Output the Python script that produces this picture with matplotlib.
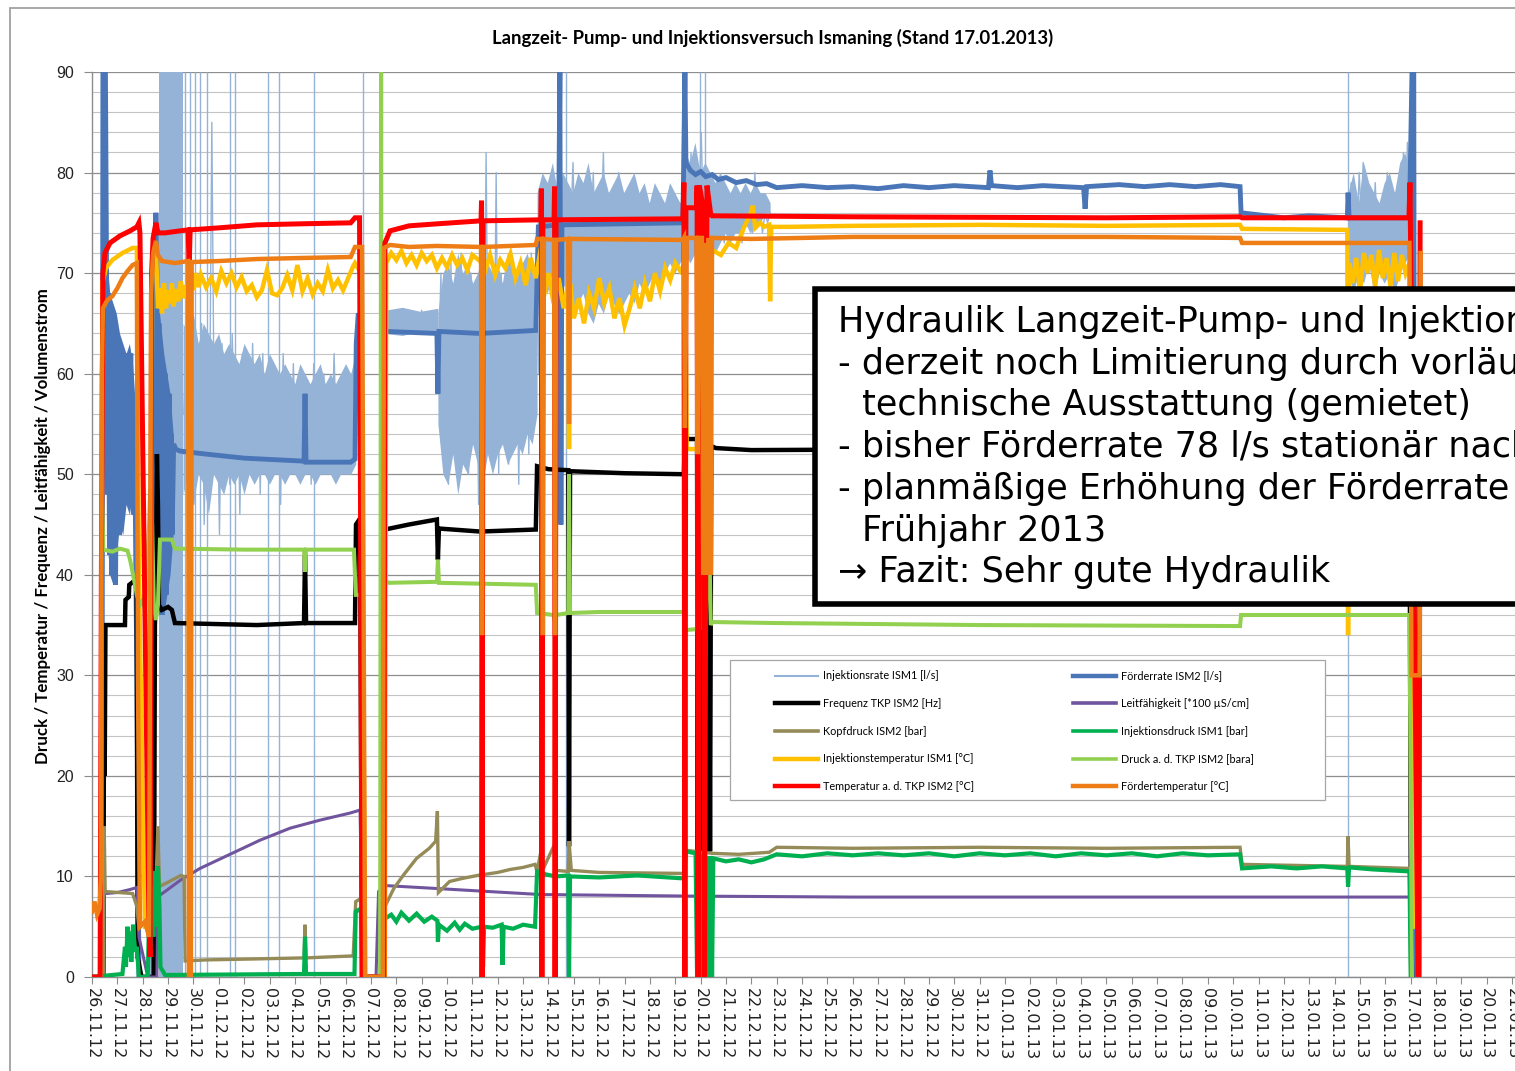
"""
Langzeit- Pump- und Injektionsversuch Ismaning - Excel style line chart
"""
import matplotlib
matplotlib.use('Agg')
import matplotlib.pyplot as plt
from matplotlib.patches import Rectangle
from matplotlib.lines import Line2D
from matplotlib.ticker import MultipleLocator
import numpy as np
import pandas as pd

# ---------------------------------------------------------------------------
# Data (x = days since 26.11.2012 00:00)
# ---------------------------------------------------------------------------
start_date = '2012-11-26'
n_days = 61
tick_dates = pd.date_range(start_date, periods=n_days, freq='D')
tick_labels = [d.strftime('%d.%m.%y') for d in tick_dates]
y_ticks = list(range(0, 91, 10))

# Injektionsrate ISM1 [l/s] - noisy bands (start day, end day, values)
inj_rate_band1 = (3.62, 10.35, [56, 63, 50, 64, 47, 62, 52, 65, 45, 61, 51, 85,
                                53, 60, 44, 63, 52, 62, 49, 64, 53, 61, 46, 62,
                                52, 60, 50, 63, 54, 61, 48, 62, 52, 59, 51, 61,
                                53, 60, 47, 62, 52, 59, 50, 61, 53, 58, 51, 60,
                                52, 59, 49, 61, 53, 58, 52, 60, 51, 59, 53, 62,
                                52, 58, 50, 60, 53, 59, 52, 61])
inj_rate_pts1 = [(10.40, 60), (10.46, 66), (10.60, 65), (10.69, 0)]
inj_rate_band2 = (11.55, 13.62, [65.5, 64.5, 66, 64.8, 65.8, 64.6, 66.2, 65,
                                 65.6, 64.5, 66, 64.8, 65.7, 64.7, 66.3, 65,
                                 65.5, 64.6, 66, 64.8, 65.6])
inj_rate_band3 = (13.66, 17.62, [60, 70, 52, 68, 49, 71, 54, 67, 51, 72, 55,
                                 69, 50, 70, 53, 68, 47, 71, 56, 82, 52, 69,
                                 54, 80, 50, 70, 55, 68, 51, 71, 53, 69, 49,
                                 70, 56, 68, 52, 72, 55, 69, 60])
inj_rate_band4 = (17.67, 23.36, [72, 78, 70, 77, 73, 80, 69, 76, 72, 79, 71,
                                 77, 74, 81, 70, 78, 72, 76, 68, 79, 73, 80,
                                 71, 77, 74, 82, 70, 78, 72, 77, 71, 80, 73,
                                 78, 69, 76, 72, 79, 74, 77, 70, 78, 73, 76,
                                 71, 75, 74, 77, 70, 76, 73, 78, 72, 75, 74,
                                 77, 73, 76])
inj_rate_band5 = (23.42, 26.74, [80, 75, 82, 74, 79, 76, 84, 73, 80, 75, 78,
                                 74, 79, 76, 77, 73, 78, 75, 77, 74, 76, 78,
                                 73, 77, 75, 76, 74, 80, 75, 77, 74, 76, 75,
                                 76])
inj_rate_band6 = (49.57, 51.95, [76, 79, 75, 78, 74, 80, 76, 81, 75, 78, 73,
                                 77, 75, 79, 74, 76, 75, 78, 76, 80, 74, 79,
                                 75, 78, 76, 80, 75, 82, 76, 83, 77])
inj_rate_pts2 = [(52.02, 82), (52.06, 0)]
inj_rate_spikes = [3.67, 3.86, 4.06, 4.26, 4.53, 5.44, 5.64, 6.94, 7.37,
                   8.75, 10.69, 18.68, 23.97, 24.17, 49.53]

# envelopes of the dense Injektionsrate noise (start, end, low, high)
inj_env_block = (2.66, 3.59, [0, 0], [90, 90])
inj_env1 = (3.59, 10.40,
            [48, 50, 47, 50, 49, 46, 50, 49, 48, 50, 49, 50, 48, 50, 49, 50,
             50, 49, 50, 50, 49, 50, 50, 49, 50, 50, 49, 50, 50, 50, 49, 50,
             50, 50, 51],
            [65, 64, 66, 63, 65, 64, 63, 64, 62, 63, 62, 61, 63, 62, 61, 62,
             60, 62, 61, 60, 61, 60, 59, 61, 60, 59, 60, 61, 59, 60, 59, 60,
             61, 60, 62])
inj_env2 = (11.53, 13.64, [64.0, 63.8, 64.2, 63.9], [66.3, 66.6, 66.2, 66.5])
inj_env3 = (13.64, 17.55,
            [55, 50, 49, 52, 48, 51, 50, 53, 51, 49, 52, 50, 52, 53, 51, 52,
             53, 52, 54, 53, 56],
            [66, 70, 71, 69, 72, 70, 71, 69, 70, 72, 71, 70, 71, 69, 72, 71,
             70, 71, 72, 70, 71])
inj_env4 = (17.55, 23.38,
            [70, 69, 68, 70, 67, 69, 68, 66, 67, 68, 66, 65, 67, 66, 68, 67,
             66, 67, 68, 67, 69, 68, 69, 70, 69, 70, 71, 70, 71, 72],
            [78, 80, 79, 81, 78, 80, 79, 78, 80, 79, 81, 78, 79, 80, 78, 79,
             80, 78, 79, 80, 78, 79, 77, 79, 78, 77, 79, 78, 77, 78])
inj_env5 = (23.38, 26.74,
            [72, 71, 72, 73, 72, 73, 72, 73, 74, 73, 74, 74, 75, 74, 75, 75,
             76, 76],
            [82, 81, 83, 80, 81, 80, 79, 80, 79, 78, 79, 78, 79, 78, 79, 78,
             78, 77])
inj_env6 = (49.53, 51.97,
            [70, 68, 70, 69, 71, 68, 70, 69, 70, 68, 70, 71, 72],
            [78, 80, 77, 81, 79, 78, 77, 79, 80, 78, 81, 82, 80])

# Förderrate ISM2 [l/s]
foerderrate = [(0.39, 0), (0.43, 90), (0.53, 90), (0.57, 72), (0.61, 48),
               (0.65, 68), (0.69, 42), (0.73, 66), (0.77, 40), (0.81, 64),
               (0.85, 45), (0.89, 62), (0.93, 39), (0.97, 60), (1.01, 47),
               (1.05, 63), (1.09, 44), (1.13, 58), (1.17, 48), (1.21, 61),
               (1.25, 50), (1.29, 56), (1.33, 47), (1.37, 62), (1.41, 52),
               (1.45, 60), (1.49, 55), (1.53, 62), (1.57, 50), (1.61, 57),
               (1.65, 46), (1.69, 52), (1.73, 40), (1.77, 30), (1.85, 0),
               (2.40, 0), (2.45, 60), (2.52, 76), (2.56, 70), (2.60, 42),
               (2.64, 65), (2.68, 38), (2.72, 62), (2.76, 36), (2.80, 58),
               (2.84, 40), (2.88, 60), (2.92, 38), (2.96, 55), (3.00, 42),
               (3.04, 58), (3.08, 45), (3.12, 54), (3.16, 44), (3.22, 53),
               (3.30, 52.5), (3.47, 52.3), (4.5, 52.0), (6.0, 51.6),
               (8.36, 51.3), (8.40, 58), (8.44, 51.2), (10.2, 51.2),
               (10.37, 51.5), (10.42, 63), (10.50, 66), (10.62, 64),
               (10.69, 0), (11.45, 0), (11.51, 64.5), (11.6, 64.2),
               (13.60, 64.0), (13.64, 58), (13.68, 64.2), (15.3, 64.0),
               (17.5, 64.3), (17.6, 74.6), (18.40, 74.8), (18.45, 90),
               (18.49, 45), (18.53, 74.8), (23.30, 75.0), (23.38, 90),
               (23.42, 81), (23.6, 80.2), (23.8, 79.8), (24.0, 80.1),
               (24.2, 79.6), (24.45, 79.8), (24.7, 79.3), (25.0, 79.5),
               (25.4, 79.0), (25.8, 79.2), (26.2, 78.8), (26.6, 78.9),
               (27.0, 78.5), (28, 78.7), (29, 78.5), (30, 78.6), (31, 78.4),
               (32, 78.7), (33, 78.5), (34, 78.7), (35.35, 78.5),
               (35.41, 80.2), (35.47, 78.7), (36.5, 78.5), (37.5, 78.7),
               (39.10, 78.5), (39.16, 76.4), (39.22, 78.6), (40.5, 78.8),
               (41.5, 78.6), (42.5, 78.8), (43.5, 78.6), (44.5, 78.8),
               (45.27, 78.6), (45.31, 76.0), (46, 75.8), (47, 75.5),
               (48, 75.7), (49.5, 75.5), (49.53, 78), (49.57, 75.5),
               (51.95, 75.5), (52.05, 90), (52.12, 90), (52.17, 0)]

# envelopes of the dense Förderrate start-up noise (start, end, low, high)
foerder_env1 = (0.57, 1.73, [44, 40, 39, 42, 45, 44, 47, 46, 48, 46],
                [72, 68, 67, 66, 64, 63, 62, 63, 61, 56])
foerder_env2 = (2.58, 3.20, [42, 38, 36, 38, 40, 44], [68, 65, 62, 60, 58, 54])

# Frequenz TKP ISM2 [Hz]
frequenz = [(0, 0), (0.45, 0), (0.47, 25), (0.50, 20), (0.53, 35),
            (1.30, 35), (1.32, 37.5), (1.45, 37.8), (1.47, 39), (1.72, 39.5),
            (1.76, 38), (1.80, 2), (1.95, 0), (2.44, 0), (2.48, 35),
            (2.52, 38), (2.56, 52), (2.60, 47), (2.64, 37), (2.75, 36.5),
            (3.00, 36.8), (3.15, 36.5), (3.27, 35.2), (6.5, 35.0),
            (8.36, 35.2), (8.40, 42), (8.44, 35.2), (10.37, 35.2),
            (10.41, 45), (10.57, 45.6), (10.65, 0), (11.51, 0), (11.55, 44.5),
            (12.5, 45.0), (13.60, 45.5), (13.64, 41.5), (13.68, 44.6),
            (15.3, 44.3), (17.5, 44.5), (17.55, 50.8), (18.0, 50.5),
            (18.78, 50.4), (18.81, 13), (18.85, 50.3), (21, 50.1),
            (23.34, 50.0), (23.38, 54), (23.5, 53.5), (23.86, 53.5),
            (23.88, 12.5), (23.92, 54), (24.0, 53.5), (24.05, 12.5),
            (24.12, 54), (24.17, 12.5), (24.22, 54), (24.27, 12.5),
            (24.32, 53), (24.37, 12.5), (24.42, 52.8), (24.6, 52.6),
            (26, 52.4), (35, 52.5), (45, 52.5), (51.95, 52.3), (52.0, 11),
            (52.05, 0)]

# Leitfähigkeit [*100 µS/cm]
leitfaehigkeit = [(0.55, 8.3), (1.0, 8.4), (1.5, 8.7), (1.77, 8.9),
                  (1.85, 4), (2.20, 0), (2.56, 0), (2.60, 8.0), (2.88, 8.5),
                  (3.47, 9.6), (4.26, 10.8), (5.44, 12.2), (6.62, 13.6),
                  (7.81, 14.8), (8.99, 15.6), (10.17, 16.3), (10.57, 16.6),
                  (10.69, 0), (11.2, 0), (11.3, 8.5), (11.51, 9.1),
                  (13.6, 8.8), (15.3, 8.55), (17.7, 8.2), (23.4, 8.05),
                  (30, 7.95), (52.0, 7.95), (52.05, 0)]

# Kopfdruck ISM2 [bar]
kopfdruck = [(0, 0), (0.45, 0), (0.48, 15), (0.52, 8.5), (1.6, 8.3),
             (1.77, 7), (1.85, 5), (2.2, 5.5), (2.44, 6), (2.52, 9),
             (2.60, 15), (2.66, 9), (2.9, 9.3), (3.2, 9.7), (3.5, 10.1),
             (3.63, 10), (3.67, 1.6), (4.5, 1.7), (6.5, 1.8), (8.36, 1.9),
             (8.40, 5.2), (8.44, 1.9), (10.3, 2.1), (10.40, 7.5), (10.6, 7.8),
             (10.69, 0), (11.51, 0), (11.55, 7), (11.9, 8.8), (12.3, 10.2),
             (12.8, 11.8), (13.3, 12.8), (13.55, 13.5), (13.62, 16.5),
             (13.66, 8.4), (14.1, 9.5), (14.6, 9.8), (15.2, 10.1),
             (16.0, 10.4), (16.5, 10.7), (17.0, 10.9), (17.47, 11.2),
             (17.55, 10.5), (17.74, 13.0), (17.8, 10.8), (18.26, 13.3),
             (18.3, 10.6), (18.78, 10.5), (18.81, 13.5), (18.9, 10.6),
             (20, 10.4), (23.34, 10.3), (23.42, 12.6), (24.45, 12.3),
             (25.5, 12.2), (26.7, 12.4), (27.0, 12.9), (30, 12.8),
             (35, 12.9), (40, 12.8), (45.27, 12.9), (45.35, 11.2),
             (49.5, 11.0), (49.53, 14.0), (49.57, 11.0), (51.95, 10.8),
             (52.0, 0)]

# Injektionsdruck ISM1 [bar]
injektionsdruck = [(0, 0), (1.20, 0.3), (1.30, 3), (1.34, 1), (1.40, 5),
                   (1.45, 2), (1.50, 4.5), (1.55, 1.5), (1.62, 5.2),
                   (1.70, 2.5), (1.77, 3), (1.85, 0), (2.20, 0), (2.25, 6),
                   (2.30, 3), (2.36, 9), (2.42, 4), (2.48, 10.5), (2.54, 5),
                   (2.60, 11), (2.66, 7), (2.70, 1), (2.88, 0.2), (8.36, 0.3),
                   (8.40, 4), (8.44, 0.3), (10.35, 0.3), (10.40, 6.5),
                   (10.6, 6.8), (10.67, 0), (11.51, 0), (11.55, 5.8),
                   (11.8, 6.2), (12.0, 5.5), (12.2, 6.4), (12.5, 5.6),
                   (12.8, 6.3), (13.1, 5.5), (13.4, 6.0), (13.62, 5.6),
                   (13.64, 3.5), (13.68, 5.2), (14.0, 4.6), (14.3, 5.4),
                   (14.5, 4.7), (14.7, 5.3), (15.0, 4.8), (15.38, 5.0),
                   (15.42, 1), (15.46, 5.0), (15.8, 4.9), (16.15, 5.2),
                   (16.19, 1.2), (16.23, 5.0), (16.6, 4.8), (17.0, 5.2),
                   (17.47, 5.0), (17.55, 10.5), (17.9, 10.2), (18.3, 10.0),
                   (18.78, 10.1), (18.81, 0), (18.85, 10.0), (20, 9.9),
                   (21.5, 10.1), (23.34, 9.8), (23.42, 12.5), (23.8, 12.3),
                   (23.86, 0), (23.92, 12.2), (24.05, 12.0), (24.10, 0),
                   (24.16, 12), (24.22, 0), (24.28, 12), (24.34, 0),
                   (24.40, 12), (24.45, 0), (24.50, 11.8), (25.0, 11.5),
                   (25.5, 11.7), (26.0, 11.4), (26.5, 11.7), (27.0, 12.2),
                   (28, 12.0), (29, 12.3), (30, 12.1), (31, 12.3), (32, 12.1),
                   (33, 12.3), (34, 12.0), (35, 12.3), (36, 12.1), (37, 12.3),
                   (38, 12.0), (39, 12.3), (40, 12.1), (41, 12.3), (42, 12.0),
                   (43, 12.3), (44, 12.1), (45.27, 12.2), (45.35, 10.8),
                   (46.5, 11.0), (47.5, 10.8), (48.5, 11.0), (49.5, 10.8),
                   (49.53, 9.0), (49.57, 10.9), (50.5, 10.7), (51.95, 10.5),
                   (52.0, 0)]

# Injektionstemperatur ISM1 [°C]
inj_temp = [(0.35, 5), (0.41, 69), (0.55, 70.5), (0.8, 71.3), (1.2, 72),
            (1.6, 72.5), (1.77, 72.5), (1.85, 40), (2.09, 5), (2.29, 5),
            (2.37, 70), (2.52, 72.5), (2.60, 66.5), (2.68, 68.5), (2.76, 66),
            (2.84, 69), (2.92, 66.5), (3.0, 68.3), (3.08, 67), (3.15, 69),
            (3.22, 66.7), (3.3, 68.4), (3.4, 67.2), (3.5, 69.2), (3.6, 67.5),
            (3.7, 68.8), (3.8, 67.8), (3.9, 69.5), (4.0, 68.3), (4.1, 70),
            (4.2, 68.6), (4.3, 69.8), (4.5, 68.6), (4.7, 69.5), (4.9, 68.2),
            (5.1, 70.2), (5.3, 69), (5.5, 70), (5.7, 68.6), (5.9, 69.6),
            (6.1, 68.2), (6.3, 68.8), (6.5, 67.6), (6.7, 68.3), (6.9, 70.3),
            (7.1, 68), (7.3, 67.8), (7.5, 68.5), (7.7, 69.8), (7.9, 68.3),
            (8.1, 70.8), (8.3, 68.2), (8.5, 69.5), (8.7, 67.9), (8.9, 69),
            (9.1, 68.2), (9.3, 70.3), (9.5, 68.5), (9.7, 69.3), (9.9, 68.3),
            (10.1, 69.5), (10.3, 70.7), (10.37, 71), (10.6, 70), (10.77, 0),
            (11.55, 0), (11.6, 71), (11.8, 72), (12.0, 71.3), (12.2, 72.2),
            (12.4, 71), (12.6, 71.8), (12.8, 70.8), (13.0, 72), (13.2, 71.2),
            (13.4, 71.8), (13.6, 70.5), (13.8, 71.5), (14.0, 70.6),
            (14.2, 71.8), (14.4, 70.8), (14.6, 71.5), (14.8, 70.3),
            (15.0, 71.8), (15.3, 71.2), (15.5, 70.2), (15.7, 71.8),
            (15.9, 69.8), (16.1, 71.3), (16.3, 70.5), (16.5, 71.9),
            (16.7, 69.5), (16.9, 71), (17.1, 68.8), (17.3, 71.5), (17.5, 69.5),
            (17.7, 72.5), (17.8, 67.5), (18.0, 70), (18.2, 67), (18.4, 69.5),
            (18.6, 66.5), (18.78, 69), (18.81, 52.5), (18.85, 69),
            (19.0, 65.5), (19.2, 67.5), (19.4, 65), (19.6, 68), (19.8, 66.5),
            (20.0, 69.5), (20.2, 67), (20.4, 68.5), (20.6, 65.5), (20.8, 67.5),
            (21.0, 64.8), (21.2, 66.5), (21.4, 68.5), (21.6, 66.5), (21.8, 69),
            (22.0, 67.2), (22.2, 70), (22.4, 68.2), (22.6, 70.5), (22.8, 69.3),
            (23.0, 71), (23.2, 70.2), (23.40, 71), (23.45, 52.5),
            (23.86, 52.5), (23.92, 72), (24.45, 72.3), (24.8, 71.8),
            (25.1, 73), (25.4, 72.5), (25.7, 74.5), (25.95, 75.8),
            (26.06, 76.7), (26.15, 74.5), (26.35, 75), (26.5, 74.6),
            (26.70, 74.8), (26.74, 67.2), (26.78, 74.6), (27.5, 74.6),
            (30, 74.7), (35, 74.8), (40, 74.7), (45.27, 74.8), (45.35, 74.4),
            (49.5, 74.3), (49.53, 34), (49.57, 71), (49.7, 69), (49.85, 71.5),
            (50.0, 68.2), (50.15, 72), (50.3, 70), (50.45, 71.8),
            (50.6, 68.6), (50.75, 72.3), (50.9, 69.5), (51.05, 71.5),
            (51.2, 68.7), (51.35, 72), (51.5, 69.2), (51.65, 71.8),
            (51.8, 70), (51.95, 71), (52.09, 5)]

# Druck a. d. TKP ISM2 [bara]
druck_tkp = [(0, 0), (0.35, 0), (0.39, 48.5), (0.45, 42.5), (0.8, 42.3),
             (1.1, 42.6), (1.4, 42.4), (1.5, 41.5), (1.62, 40), (1.77, 38),
             (1.89, 37), (2.0, 37.5), (2.09, 36.5), (2.25, 45), (2.29, 48.5),
             (2.37, 45), (2.44, 37), (2.52, 35.5), (2.60, 37), (2.68, 43.5),
             (3.15, 43.5), (3.27, 42.6), (6, 42.5), (8.36, 42.5),
             (8.40, 40.3), (8.44, 42.5), (10.33, 42.5), (10.40, 38),
             (10.65, 38), (10.69, 0), (11.36, 0), (11.40, 90), (11.44, 0),
             (11.51, 39.5), (11.7, 39.2), (13.60, 39.3), (13.64, 41.5),
             (13.68, 39.2), (17.5, 39.0), (17.55, 36.2), (18.2, 36.0),
             (18.26, 35.3), (18.3, 36.0), (18.78, 36.2), (18.81, 50),
             (18.85, 36.2), (20, 36.3), (23.34, 36.3), (23.40, 34.5),
             (23.86, 34.6), (23.90, 49), (24.0, 34.5), (24.1, 49),
             (24.2, 34.5), (24.3, 49), (24.4, 35.0), (24.45, 35.3),
             (27, 35.2), (35, 35.0), (45.27, 34.9), (45.31, 36.0),
             (51.95, 36.0), (52.05, 0)]

# Temperatur a. d. TKP ISM2 [°C]
temp_tkp = [(0, 0), (0.32, 0), (0.37, 40), (0.43, 70), (0.51, 72),
            (0.71, 73), (1.1, 73.7), (1.5, 74.2), (1.77, 74.6), (1.85, 75),
            (1.89, 74), (2.25, 5), (2.29, 2), (2.35, 70), (2.41, 73.5),
            (2.52, 75), (2.60, 74), (2.88, 74), (3.47, 74.2), (3.79, 74.3),
            (3.83, 70.5), (3.87, 74.3), (5, 74.5), (6.5, 74.8), (8.2, 74.9),
            (10.2, 75), (10.37, 75.5), (10.55, 75.5), (10.65, 0), (11.51, 0),
            (11.55, 73), (11.75, 74.2), (12.5, 74.7), (13.6, 74.9),
            (15.34, 75.2), (15.36, 77.2), (15.38, 0), (15.42, 75.2),
            (17.70, 75.3), (17.72, 78.4), (17.74, 0), (17.78, 75.3),
            (18.22, 75.3), (18.24, 78.6), (18.26, 0), (18.30, 75.3),
            (23.30, 75.4), (23.34, 79), (23.38, 0), (23.42, 76.5),
            (23.84, 76.5), (23.86, 78.7), (23.90, 0), (23.95, 78.7),
            (24.10, 76.5), (24.15, 0), (24.25, 78.7), (24.40, 75.8),
            (24.45, 75.7), (30, 75.6), (40, 75.5), (45.27, 75.6),
            (45.35, 75.5), (51.93, 75.5), (51.97, 79), (52.29, 0),
            (52.33, 0), (52.37, 75)]

# Fördertemperatur [°C]
foerdertemp = [(0, 6.5), (0.1, 7.5), (0.2, 6.2), (0.3, 6.8), (0.35, 10),
               (0.39, 60), (0.43, 66.5), (0.6, 67.3), (0.8, 67.7), (1.0, 68.5),
               (1.2, 69.5), (1.4, 70.2), (1.6, 70.8), (1.77, 71.0),
               (1.81, 30), (1.89, 5), (2.09, 5.5), (2.25, 4), (2.33, 68),
               (2.41, 72), (2.52, 73.2), (2.60, 71.8), (2.76, 71.2),
               (3.27, 71.0), (3.79, 71.2), (3.82, 0), (3.90, 0), (3.93, 71.1),
               (5, 71.2), (6.5, 71.4), (8.2, 71.5), (10.2, 71.6),
               (10.37, 72.6), (10.65, 72.6), (10.77, 0), (11.47, 0),
               (11.51, 72.5), (11.75, 72.8), (12.5, 72.6), (13.6, 72.7),
               (15.34, 72.6), (15.38, 34), (15.42, 72.6), (17.50, 72.8),
               (17.55, 73.4), (17.74, 73.4), (17.78, 34), (17.82, 73.4),
               (18.22, 73.3), (18.26, 34), (18.30, 73.3), (18.78, 73.4),
               (18.81, 55), (18.85, 73.4), (23.30, 73.3), (23.34, 73.5),
               (23.38, 54.6), (23.45, 73.5), (23.84, 73.5), (23.88, 52),
               (23.92, 73.5), (24.05, 73.5), (24.10, 40), (24.18, 73),
               (24.25, 40), (24.32, 73.5), (24.40, 40), (24.45, 73.5),
               (26, 73.4), (30, 73.6), (40, 73.6), (45.27, 73.5),
               (45.35, 73.0), (51.95, 73.0), (52.03, 30), (52.35, 30),
               (52.39, 72)]

# ---------------------------------------------------------------------------
# Styling
# ---------------------------------------------------------------------------
C_INJRATE = '#95B3D7'
C_FOERDER = '#4A76B8'
C_FREQ = '#000000'
C_LEIT = '#70559E'
C_KOPF = '#958B58'
C_INJDRUCK = '#00B050'
C_INJTEMP = '#FFC000'
C_DRUCKTKP = '#92D050'
C_TEMPTKP = '#FF0000'
C_FTEMP = '#ED7D14'


def xy(points):
    """Split a list of (day, value) pairs"""
    arr = np.array(points, dtype=float)
    return arr[:, 0], arr[:, 1]


def band(spec):
    """Values on a regular day grid between start and end"""
    d0, d1, vals = spec
    return np.linspace(d0, d1, len(vals)), np.array(vals, dtype=float)


def envelope(ax, spec, color, z):
    """Fill the dense noise range of a series"""
    d0, d1, lo, hi = spec
    t = np.linspace(d0, d1, len(lo))
    ax.fill_between(t, lo, hi, color=color, lw=0, zorder=z)


gap = (np.array([np.nan]), np.array([np.nan]))
inj_parts = [band(inj_rate_band1), xy(inj_rate_pts1), gap,
             band(inj_rate_band2), band(inj_rate_band3), band(inj_rate_band4),
             band(inj_rate_band5), gap, band(inj_rate_band6), xy(inj_rate_pts2)]
inj_t = np.concatenate([p[0] for p in inj_parts])
inj_v = np.concatenate([p[1] for p in inj_parts])

fig = plt.figure(figsize=(15.15, 10.71), dpi=100)
ax = fig.add_axes([92 / 1515, 94 / 1071, 60 * 25.36 / 1515, 905 / 1071])

# drawn in legend order, later series on top
for env in [inj_env_block, inj_env1, inj_env2, inj_env3, inj_env4, inj_env5,
            inj_env6]:
    envelope(ax, env, C_INJRATE, 3)
ax.plot(inj_t, inj_v, color=C_INJRATE, lw=1.0, zorder=3)
ax.vlines(inj_rate_spikes, 0, 90, color=C_INJRATE, lw=1.0, zorder=3)
for env in [foerder_env1, foerder_env2]:
    envelope(ax, env, C_FOERDER, 4)
series = [
    (foerderrate, C_FOERDER, 3.5),
    (frequenz, C_FREQ, 3.2),
    (leitfaehigkeit, C_LEIT, 2.2),
    (kopfdruck, C_KOPF, 2.4),
    (injektionsdruck, C_INJDRUCK, 3.0),
    (inj_temp, C_INJTEMP, 3.2),
    (druck_tkp, C_DRUCKTKP, 2.9),
    (temp_tkp, C_TEMPTKP, 3.6),
    (foerdertemp, C_FTEMP, 3.2),
]
for i, (pts, col, lw) in enumerate(series):
    t, v = xy(pts)
    ax.plot(t, v, color=col, lw=lw, zorder=4 + i, solid_joinstyle='miter')

ax.set_xlim(0, 60)
ax.set_ylim(0, 90)
ax.set_yticks(y_ticks)
ax.yaxis.set_minor_locator(MultipleLocator(2))
ax.set_xticks(np.arange(n_days))
ax.set_xticklabels(tick_labels, rotation=-90, fontsize=11.5,
                   family='DejaVu Sans', color='#222222')
ax.tick_params(axis='x', length=5, color='#8C8C8C', pad=3)
ax.tick_params(axis='y', which='major', length=6, color='#8C8C8C', pad=7,
               labelsize=11.5, labelcolor='#222222')
ax.tick_params(axis='y', which='minor', length=0)
for lab in ax.get_yticklabels():
    lab.set_family('Liberation Sans')
ax.grid(which='major', axis='y', color='#8E8E8E', lw=0.9, zorder=0)
ax.grid(which='minor', axis='y', color='#C4C4C4', lw=0.8, zorder=0)
ax.set_axisbelow(True)
for s in ['top', 'right']:
    ax.spines[s].set_visible(False)
for s in ['left', 'bottom']:
    ax.spines[s].set_color('#8C8C8C')
    ax.spines[s].set_linewidth(1.0)

# outer chart border
fig.add_artist(Rectangle((10 / 1515, -0.1), 1.2, 1 - 8 / 1071 + 0.1,
                         transform=fig.transFigure, fill=False,
                         edgecolor='#A0A0A0', lw=1.3, zorder=0.5))

fig.text(773 / 1515, 1 - 38 / 1071,
         'Langzeit- Pump- und Injektionsversuch Ismaning (Stand 17.01.2013)',
         ha='center', va='center', fontsize=13.3, fontweight='bold',
         family='Lato')
fig.text(43 / 1515, 1 - 526 / 1071,
         'Druck / Temperatur / Frequenz / Leitfähigkeit / Volumenstrom',
         rotation=90, ha='center', va='center', fontsize=12.2,
         fontweight='bold', family='Lato')

# legend with its own white frame
fig.add_artist(Rectangle((730 / 1515, 1 - 800 / 1071), 595 / 1515, 140 / 1071,
                         transform=fig.transFigure, facecolor='white',
                         edgecolor='#A6A6A6', lw=0.9, zorder=2))
labels_left = ['Injektionsrate ISM1 [l/s]', 'Frequenz TKP ISM2 [Hz]',
               'Kopfdruck ISM2 [bar]', 'Injektionstemperatur ISM1 [°C]',
               'Temperatur a. d. TKP ISM2 [°C]']
labels_right = ['Förderrate ISM2 [l/s]', 'Leitfähigkeit [*100 µS/cm]',
                'Injektionsdruck ISM1 [bar]', 'Druck a. d. TKP ISM2 [bara]',
                'Fördertemperatur [°C]']
cols_left = [(C_INJRATE, 1.5), (C_FREQ, 3.2), (C_KOPF, 2.6), (C_INJTEMP, 3.2),
             (C_TEMPTKP, 3.2)]
cols_right = [(C_FOERDER, 3.2), (C_LEIT, 2.6), (C_INJDRUCK, 2.6),
              (C_DRUCKTKP, 2.6), (C_FTEMP, 3.2)]
handles = [Line2D([], [], color=c, lw=w) for c, w in cols_left + cols_right]
leg = fig.legend(handles, labels_left + labels_right, ncol=2,
                 loc='upper left', bbox_to_anchor=(770 / 1515, 1 - 665 / 1071),
                 frameon=False, handlelength=3.9,
                 handletextpad=0.5, columnspacing=9.15, labelspacing=1.54,
                 borderpad=0, prop={'family': 'Lato', 'size': 7.8})
leg.set_zorder(3)

# overlay text box
fig.add_artist(Rectangle((815 / 1515, 1 - 604 / 1071), 0.6, 315 / 1071,
                         transform=fig.transFigure, facecolor='white',
                         edgecolor='black', lw=4, zorder=4))
box_lines = [
    (838, 'Hydraulik Langzeit-Pump- und Injektionsversuch'),
    (838, '- derzeit noch Limitierung durch vorläufige'),
    (862, 'technische Ausstattung (gemietet)'),
    (838, '- bisher Förderrate 78 l/s stationär nachgewiesen'),
    (838, '- planmäßige Erhöhung der Förderrate im'),
    (862, 'Frühjahr 2013'),
    (838, '→ Fazit: Sehr gute Hydraulik'),
]
for i, (x0, txt) in enumerate(box_lines):
    fig.text(x0 / 1515, 1 - (322 + i * 41.7) / 1071, txt, ha='left',
             va='center', fontsize=25.2, family='DejaVu Sans', zorder=5)

fig.savefig('out.png', dpi=100, facecolor='white')
